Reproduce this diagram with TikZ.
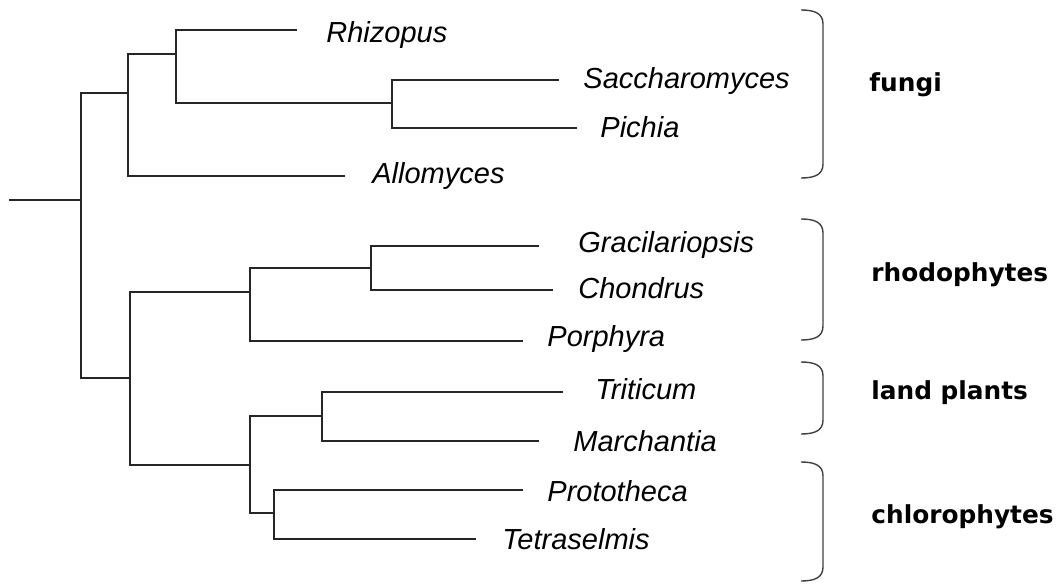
\documentclass[tikz,border=0pt]{standalone}
\usepackage{fontspec}
\setmainfont{Liberation Sans}
\newfontfamily\grpfont{DejaVu Sans}
\usepackage{tikz}

\begin{document}
\begin{tikzpicture}[x=0.5pt, y=-0.5pt,
    taxon/.style={anchor=base west, inner sep=0pt, font=\fontsize{14.5}{17}\selectfont\itshape},
    group/.style={anchor=base west, inner sep=0pt, font=\grpfont\fontsize{12.4}{14}\selectfont\bfseries},
    branch/.style={line width=0.7pt, draw=black!85},
    brk/.style={line width=0.7pt, draw=black!75}]

    \useasboundingbox (0,0) rectangle (1059,583);

    \coordinate (base) at (9,200);
    \coordinate (R) at (81,200);
    \coordinate (A) at (128,93);
    \coordinate (B) at (176,54);
    \coordinate (C) at (392,103);
    \coordinate (D) at (130,378);
    \coordinate (E) at (250,292);
    \coordinate (F) at (371,268);
    \coordinate (G) at (250,465);
    \coordinate (H) at (322,416);
    \coordinate (I) at (274,513);

    \coordinate (rhiz) at (297,30);
    \coordinate (sacc) at (559,80);
    \coordinate (pich) at (577,128);
    \coordinate (allo) at (345,176);
    \coordinate (grac) at (539,246);
    \coordinate (chon) at (553,290);
    \coordinate (porp) at (523,341);
    \coordinate (trit) at (563,392);
    \coordinate (marc) at (539,441);
    \coordinate (prot) at (523,490);
    \coordinate (tetr) at (476,539);

    \node[taxon] (Rhizopus) at (326,43) {Rhizopus};
    \node[taxon] (Saccharomyces) at (583,89) {Saccharomyces};
    \node[taxon] (Pichia) at (600,137) {Pichia};
    \node[taxon] (Allomyces) at (372,183) {Allomyces};
    \node[taxon] (Gracilariopsis) at (578,252) {Gracilariopsis};
    \node[taxon] (Chondrus) at (578,298) {Chondrus};
    \node[taxon] (Porphyra) at (547,346) {Porphyra};
    \node[taxon] (Triticum) at (595,399) {Triticum};
    \node[taxon] (Marchantia) at (573,451) {Marchantia};
    \node[taxon] (Prototheca) at (547,501) {Prototheca};
    \node[taxon] (Tetraselmis) at (502,549) {Tetraselmis};

    \node[group] (fungi) at (869,91) {fungi};
    \node[group] (rhodo) at (871,281) {rhodophytes};
    \node[group] (land) at (871,399) {land plants};
    \node[group] (chloro) at (871,523) {chlorophytes};

    \draw[branch] (base) -- (R);
    \draw[branch] (R) |- (A);
    \draw[branch] (R) |- (D);
    \draw[branch] (A) |- (B);
    \draw[branch] (A) |- (allo);
    \draw[branch] (B) |- (rhiz);
    \draw[branch] (B) |- (C);
    \draw[branch] (C) |- (sacc);
    \draw[branch] (C) |- (pich);
    \draw[branch] (D) |- (E);
    \draw[branch] (D) |- (G);
    \draw[branch] (E) |- (F);
    \draw[branch] (E) |- (porp);
    \draw[branch] (F) |- (grac);
    \draw[branch] (F) |- (chon);
    \draw[branch] (G) |- (H);
    \draw[branch] (G) |- (I);
    \draw[branch] (H) |- (trit);
    \draw[branch] (H) |- (marc);
    \draw[branch] (I) |- (prot);
    \draw[branch] (I) |- (tetr);

    \draw[brk] (801,10) .. controls (814,10) and (823,13) .. (823,24) -- (823,164) .. controls (823,175) and (814,178) .. (801,178);
    \draw[brk] (801,219) .. controls (814,219) and (823,222) .. (823,233) -- (823,326) .. controls (823,337) and (814,340) .. (801,340);
    \draw[brk] (801,362) .. controls (814,362) and (823,365) .. (823,376) -- (823,420) .. controls (823,431) and (814,434) .. (801,434);
    \draw[brk] (801,462) .. controls (814,462) and (823,465) .. (823,476) -- (823,567) .. controls (823,578) and (814,581) .. (801,581);
\end{tikzpicture}
\end{document}
